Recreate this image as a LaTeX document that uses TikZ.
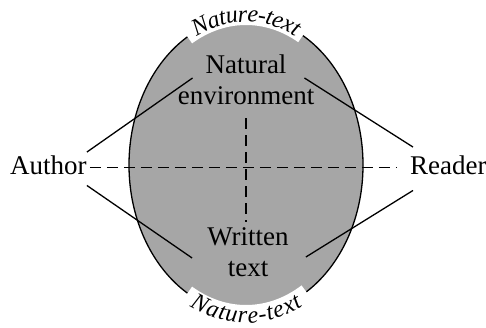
\documentclass[tikz,border=0pt]{standalone}
\usepackage{fontspec}
\setmainfont{Liberation Serif}
\usetikzlibrary{decorations.text}

\begin{document}
\begin{tikzpicture}[x=1pt,y=1pt,
  lbl/.style={inner sep=0pt,font=\fontsize{27}{31}\selectfont,align=center},
  link/.style={line width=1.3pt},
  dashlink/.style={line width=1.3pt,dash pattern=on 11pt off 6pt},
  band/.style={draw=white,line width=16pt},
  rim/.style={decorate,decoration={text along path,text align=center,
      text={|\itshape\fontsize{24}{24}\selectfont|Nature-text},raise=#1}}]
  \useasboundingbox (0,0) rectangle (486,327);
  \coordinate (c) at (246,162);
  \path[fill=black!35,draw=black,line width=1.3pt] (c) ellipse[x radius=117,y radius=148];
  % gaps in the rim for the two labels
  \draw[band] (c) ++(120:117 and 148) arc[start angle=120,end angle=61,x radius=117,y radius=148];
  \draw[band] (c) ++(240:117 and 148) arc[start angle=240,end angle=301,x radius=117,y radius=148];
  \path[rim=-5pt] (c) ++(128:117 and 148) arc[start angle=128,end angle=52,x radius=117,y radius=148];
  \path[rim=-10pt] (c) ++(230:117 and 148) arc[start angle=230,end angle=310,x radius=117,y radius=148];

  \node[lbl,anchor=base west] (author) at (10,153) {Author};
  \node[lbl,anchor=base west] (reader) at (410,153) {Reader};
  \node[lbl] (nature) at (246,247) {Natural\\environment};
  \node[lbl] (written) at (248,75) {Written\\text};

  \draw[link] ([yshift=3pt]author.north east) -- ([shift={(15pt,2pt)}]nature.west);
  \draw[link] ([yshift=-11pt]author.south east) -- ([shift={(-15pt,-6pt)}]written.west);
  \draw[link] ([shift={(-10pt,2pt)}]nature.east) -- ([shift={(3pt,8pt)}]reader.north west);
  \draw[link] ([shift={(17pt,-5pt)}]written.east) -- ([shift={(3pt,-16pt)}]reader.south west);
  \draw[dashlink] ([shift={(3pt,-3pt)}]author.east) -- ([shift={(-13pt,-3pt)}]reader.west);
  \draw[dashlink] ([yshift=-13pt]nature.south) -- ([shift={(-2pt,5pt)}]written.north);
\end{tikzpicture}
\end{document}
